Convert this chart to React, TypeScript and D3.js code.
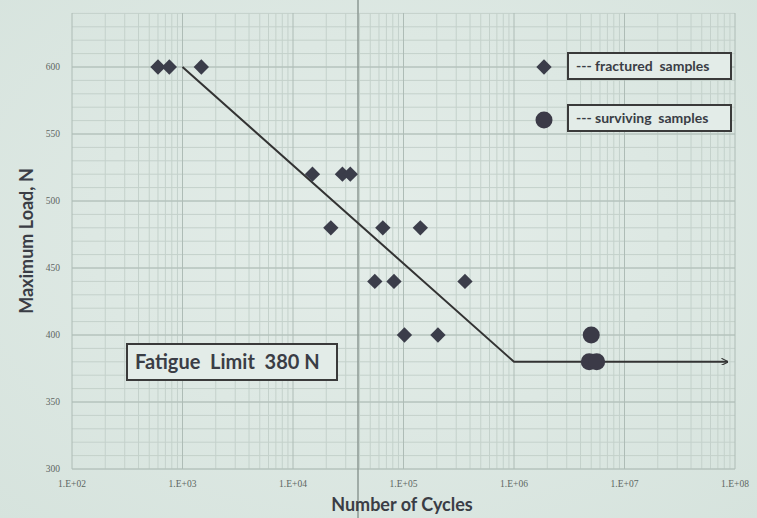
import React from 'react';
import * as d3 from 'd3';

// fractured samples: [cycles, load N]
const fracturedCycles = [600, 760, 1480, 15000, 28000, 33000, 22000, 65000, 142000, 55000, 82000, 360000, 102000, 205000];
const fracturedLoads = [600, 600, 600, 520, 520, 520, 480, 480, 480, 440, 440, 440, 400, 400];

// surviving samples (run-outs)
const survivingCycles = [5000000, 4800000, 5600000];
const survivingLoads = [400, 380, 380];

// S-N curve with fatigue limit
const curveCycles = [1000, 1000000, 86000000];
const curveLoads = [600, 380, 380];

const xTickLabels = ['1.E+02', '1.E+03', '1.E+04', '1.E+05', '1.E+06', '1.E+07', '1.E+08'];
const yTicks = [300, 350, 400, 450, 500, 550, 600];

const W = 757;
const H = 518;

const App: React.FC = () => {
  const x = d3.scaleLog().domain([1e2, 1e8]).range([72, 735]);
  const y = d3.scaleLinear().domain([300, 600]).range([469, 67]);
  const yTop = 13;

  const minorX: number[] = [];
  for (let e = 2; e < 8; e++) {
    for (let k = 2; k <= 9; k++) minorX.push(k * Math.pow(10, e));
  }
  const majorX = d3.range(2, 9).map(e => Math.pow(10, e));
  const minorY = d3.range(300, 641, 10);
  const majorY = d3.range(300, 641, 50);

  const line = d3.line<number>()
    .x(i => x(curveCycles[i]))
    .y(i => y(curveLoads[i]));

  const diamond = d3.symbol().type(d3.symbolDiamond2).size(150)();
  const font = 'Lato, "Open Sans", sans-serif';
  const ink = '#3a3d45';

  return (
    <svg width={W} height={H} style={{ position: 'absolute', left: 0, top: 0 }}
      fontFamily={font}>
      <defs>
        <radialGradient id="bg" cx="0.5" cy="0.45" r="0.75">
          <stop offset="0" stopColor="#e4ede9" />
          <stop offset="1" stopColor="#d6e3dd" />
        </radialGradient>
        <marker id="arrow" viewBox="0 0 10 10" refX="9" refY="5" markerWidth="7" markerHeight="7"
          orient="auto" markerUnits="userSpaceOnUse">
          <path d="M0,0 L10,5 L0,10" fill="none" stroke="#333" strokeWidth={1.6} />
        </marker>
      </defs>
      <rect width={W} height={H} fill="url(#bg)" />

      {/* grid */}
      <g>
        {minorY.map(v => (
          <line key={'my' + v} x1={72} x2={735} y1={y(v)} y2={y(v)} stroke="#c4d1cb" strokeWidth={1} />
        ))}
        {minorX.map(v => (
          <line key={'mx' + v} x1={x(v)} x2={x(v)} y1={yTop} y2={469} stroke="#c4d1cb" strokeWidth={1} />
        ))}
        {majorY.map(v => (
          <line key={'My' + v} x1={72} x2={735} y1={y(v)} y2={y(v)} stroke="#aebcb6" strokeWidth={1} />
        ))}
        {majorX.map(v => (
          <line key={'Mx' + v} x1={x(v)} x2={x(v)} y1={yTop} y2={469} stroke="#aebcb6" strokeWidth={1} />
        ))}
      </g>

      {/* stray vertical line in the photo */}
      <line x1={358} x2={358} y1={0} y2={H} stroke="#8c9893" strokeWidth={1.5} />

      {/* tick labels */}
      {yTicks.map(v => (
        <text key={'yt' + v} x={60} y={y(v)} dy="0.35em" textAnchor="end" fontSize={9.5}
          fill="#5d6662" fontFamily='"Liberation Serif", serif'>{v}</text>
      ))}
      {majorX.map((v, i) => (
        <text key={'xt' + v} x={x(v)} y={487} textAnchor="middle" fontSize={9.5}
          fill="#5d6662" fontFamily='"Liberation Serif", serif'>{xTickLabels[i]}</text>
      ))}

      {/* axis titles */}
      <text transform="translate(33,241) rotate(-90)" textAnchor="middle" fontSize={18}
        fontWeight="bold" fill={ink}>Maximum Load, N</text>
      <text x={402} y={511} textAnchor="middle" fontSize={18} fontWeight="bold" fill={ink}>
        Number of Cycles
      </text>

      {/* S-N curve */}
      <path d={line(d3.range(curveCycles.length)) || ''} fill="none" stroke="#333" strokeWidth={2}
        markerEnd="url(#arrow)" />

      {/* fractured samples */}
      {fracturedCycles.map((c, i) => (
        <path key={'f' + i} d={diamond || ''} transform={`translate(${x(c)},${y(fracturedLoads[i])})`}
          fill="#3b3d4a" />
      ))}

      {/* surviving samples */}
      {survivingCycles.map((c, i) => (
        <circle key={'s' + i} cx={x(c)} cy={y(survivingLoads[i])} r={8.5} fill="#3b3a47" />
      ))}

      {/* legend */}
      <path d={diamond || ''} transform="translate(544,67)" fill="#3b3d4a" />
      <rect x={568} y={53} width={163} height={26} fill="#e3ece8" stroke="#3a3a3a" strokeWidth={2} />
      <text x={576} y={70.5} fontSize={14} fontWeight="bold" fill={ink} style={{ whiteSpace: 'pre' }}>
        {'--- fractured  samples'}
      </text>
      <circle cx={544} cy={120} r={8.5} fill="#3b3a47" />
      <rect x={568} y={105} width={163} height={26} fill="#e3ece8" stroke="#3a3a3a" strokeWidth={2} />
      <text x={576} y={122.5} fontSize={14} fontWeight="bold" fill={ink} style={{ whiteSpace: 'pre' }}>
        {'--- surviving  samples'}
      </text>

      {/* fatigue limit note */}
      <rect x={127} y={344} width={210} height={36} fill="#e3ece8" stroke="#3a3a3a" strokeWidth={2} />
      <text x={135} y={369} fontSize={20} fontWeight="bold" fill={ink} style={{ whiteSpace: 'pre' }}>
        {'Fatigue  Limit  380 N'}
      </text>
    </svg>
  );
};

export default App;
